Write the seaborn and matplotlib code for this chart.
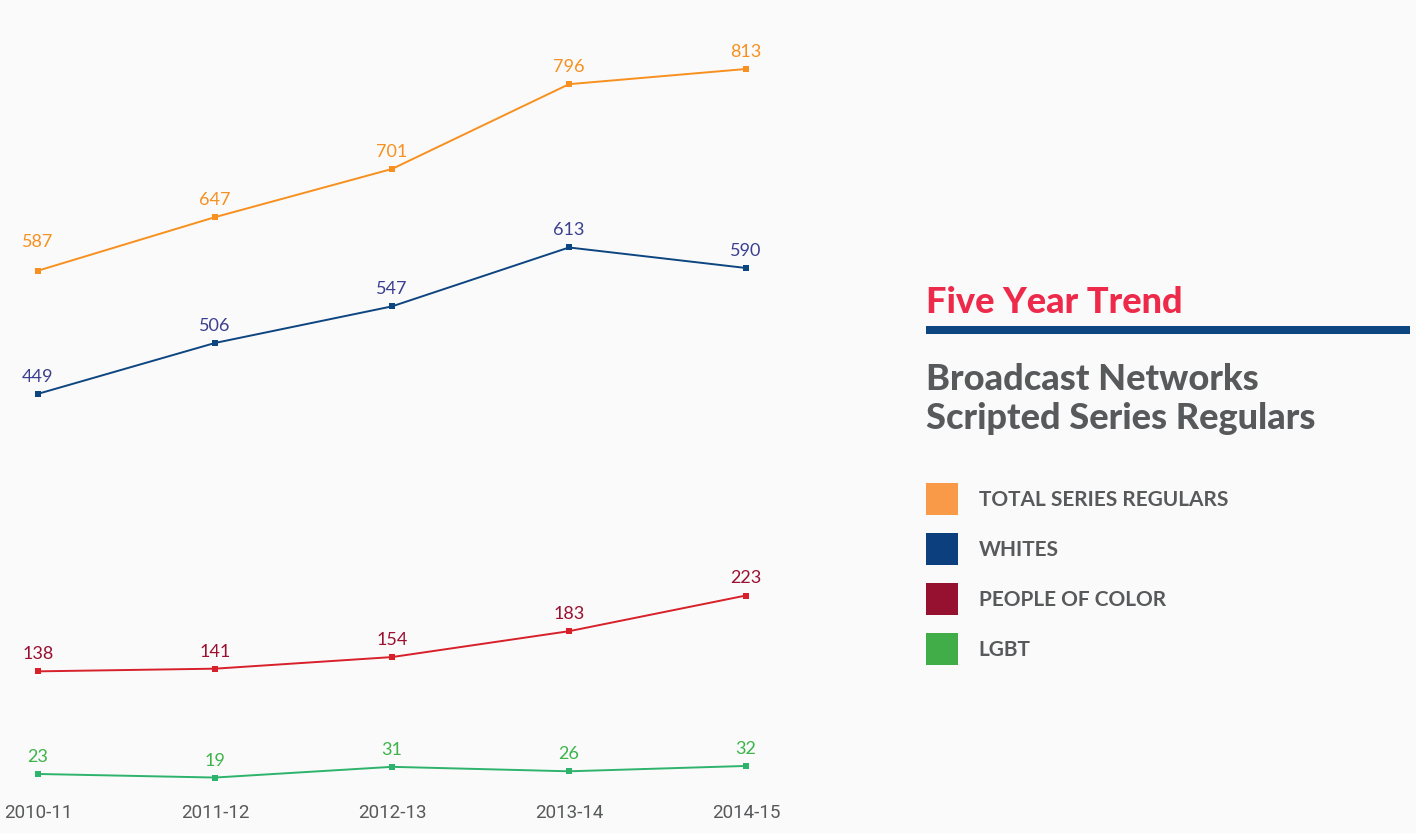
"""Five year trend of broadcast network scripted series regulars."""

import matplotlib.pyplot as plt
import pandas as pd
import seaborn as sns
from matplotlib.patches import Patch

seasons = ["2010-11", "2011-12", "2012-13", "2013-14", "2014-15"]
total_regulars = [587, 647, 701, 796, 813]
whites = [449, 506, 547, 613, 590]
people_of_color = [138, 141, 154, 183, 223]
lgbt = [23, 19, 31, 26, 32]

series_names = ["TOTAL SERIES REGULARS", "WHITES", "PEOPLE OF COLOR", "LGBT"]
line_colors = ["#f7901e", "#0d4580", "#d7202a", "#2db36c"]
label_colors = ["#f7901e", "#3b3f8f", "#9b1030", "#3cb44a"]
legend_colors = ["#f89a48", "#0c3f7d", "#961030", "#41ad49"]

BG = "#fafafa"
GREY = "#58595b"

rows = []
for name, values in zip(
    series_names, [total_regulars, whites, people_of_color, lgbt]
):
    for i, (season, v) in enumerate(zip(seasons, values)):
        rows.append({"series": name, "pos": i, "season": season, "value": v})
data = pd.DataFrame(rows)

sns.set_theme(style="white")
plt.rcParams["font.family"] = ["Lato", "DejaVu Sans"]

W, H = 1416, 833
fig = plt.figure(figsize=(W / 100, H / 100), dpi=100, facecolor=BG)
# axes placed so season 0 sits at x=38px, season 4 at 746px,
# value 0 at y=794px and 813 at y=69px
ax = fig.add_axes([38 / W, (H - 794.5) / H, (746 - 38) / W, (794.5 - 69) / H])
ax.set_facecolor(BG)

sns.lineplot(
    data=data,
    x="pos",
    y="value",
    hue="series",
    hue_order=series_names,
    palette=line_colors,
    marker="s",
    markersize=5,
    markeredgewidth=0,
    linewidth=1.4,
    legend=False,
    ax=ax,
)
for line in ax.lines:
    line.set_clip_on(False)

for name, color in zip(series_names, label_colors):
    sub = data[data["series"] == name]
    for _, r in sub.iterrows():
        # first total label sits a bit higher in the original
        lift = 15 if (r["series"] == series_names[0] and r["pos"] == 0) else 6.5
        ax.annotate(
            f"{r['value']}",
            xy=(r["pos"], r["value"]),
            xytext=(0, lift),
            textcoords="offset points",
            ha="center",
            va="bottom",
            fontsize=13,
            color=color,
        )

ax.set_xlim(0, 4)
ax.set_ylim(0, 813)
ax.set_xticks(range(len(seasons)))
ax.set_xticklabels(
    seasons, fontsize=13.5, color=GREY, family=["Roboto", "DejaVu Sans"]
)
ax.tick_params(axis="x", length=0, pad=7)
ax.set_yticks([])
ax.set_xlabel("")
ax.set_ylabel("")
sns.despine(ax=ax, left=True, bottom=True)

# right-hand panel
fig.text(
    926 / W,
    1 - 313 / H,
    "Five Year Trend",
    fontsize=26,
    fontweight="black",
    color="#ee2a4a",
    ha="left",
    va="baseline",
)
fig.add_artist(
    plt.Rectangle(
        (926 / W, 1 - 334 / H),
        (1410 - 926) / W,
        8 / H,
        transform=fig.transFigure,
        color="#0d4580",
        lw=0,
    )
)
for line_text, base in [
    ("Broadcast Networks", 390),
    ("Scripted Series Regulars", 429),
]:
    fig.text(
        926 / W,
        1 - base / H,
        line_text,
        fontsize=26,
        fontweight="black",
        color=GREY,
        ha="left",
        va="baseline",
    )

handles = [Patch(facecolor=c, edgecolor="none") for c in legend_colors]
fig.legend(
    handles,
    series_names,
    loc="upper left",
    bbox_to_anchor=(926 / W, 1 - 483 / H),
    frameon=False,
    prop={"size": 15, "weight": "bold"},
    handlelength=1.536,
    handleheight=1.986,
    handletextpad=1.0,
    labelspacing=0.864,
    borderpad=0,
    borderaxespad=0,
    labelcolor=GREY,
)

fig.savefig("out.png", dpi=100, facecolor=BG)
